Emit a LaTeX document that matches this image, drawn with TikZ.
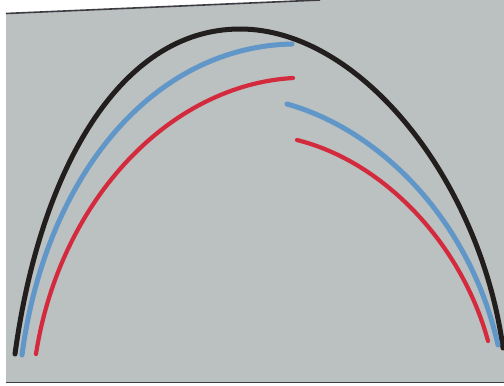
\documentclass[tikz,border=0pt]{standalone}
\usepackage{tikz}
\usepackage{xcolor}
\definecolor{papergray}{RGB}{187,192,192}
\definecolor{inkblack}{RGB}{34,30,30}
\definecolor{inkblue}{RGB}{96,150,200}
\definecolor{inkred}{RGB}{212,42,62}
\definecolor{edgedark}{RGB}{60,60,66}
\tikzset{
  arcline/.style={line cap=round, line join=round},
  blackarc/.style={arcline, draw=inkblack, line width=5pt},
  bluearc/.style={arcline, draw=inkblue, line width=5pt},
  redarc/.style={arcline, draw=inkred, line width=4.2pt},
}

\begin{document}
\begin{tikzpicture}[x=1pt, y=-1pt]
  \useasboundingbox (0,0) rectangle (504,386);
  \fill[white] (0,0) rectangle (504,386);
  % the sheet of paper
  \fill[papergray] (6,13.5) -- (320,0) -- (504,0) -- (504,382) -- (6,382) -- cycle;
  \draw[edgedark, line width=1.6pt] (6,13.5) -- (320,0);
  \draw[edgedark, line width=1.6pt] (6,382.5) -- (504,382.5);

  % outer arc
  \coordinate (top) at (240,29);
  \draw[blackarc] (15,354) .. controls (40,170) and (120,29) .. (top)
    .. controls (360,29) and (480,180) .. (503,348);

  % middle arc, two pieces
  \draw[bluearc] (22,355) .. controls (45,180) and (150,47) .. (292,44);
  \draw[bluearc] (287,104) .. controls (380,130) and (470,220) .. (498,345);

  % inner arc, two pieces
  \draw[redarc] (36,354) .. controls (60,200) and (170,85) .. (293,78);
  \draw[redarc] (297,140) .. controls (385,162) and (462,245) .. (488,341);
\end{tikzpicture}
\end{document}
